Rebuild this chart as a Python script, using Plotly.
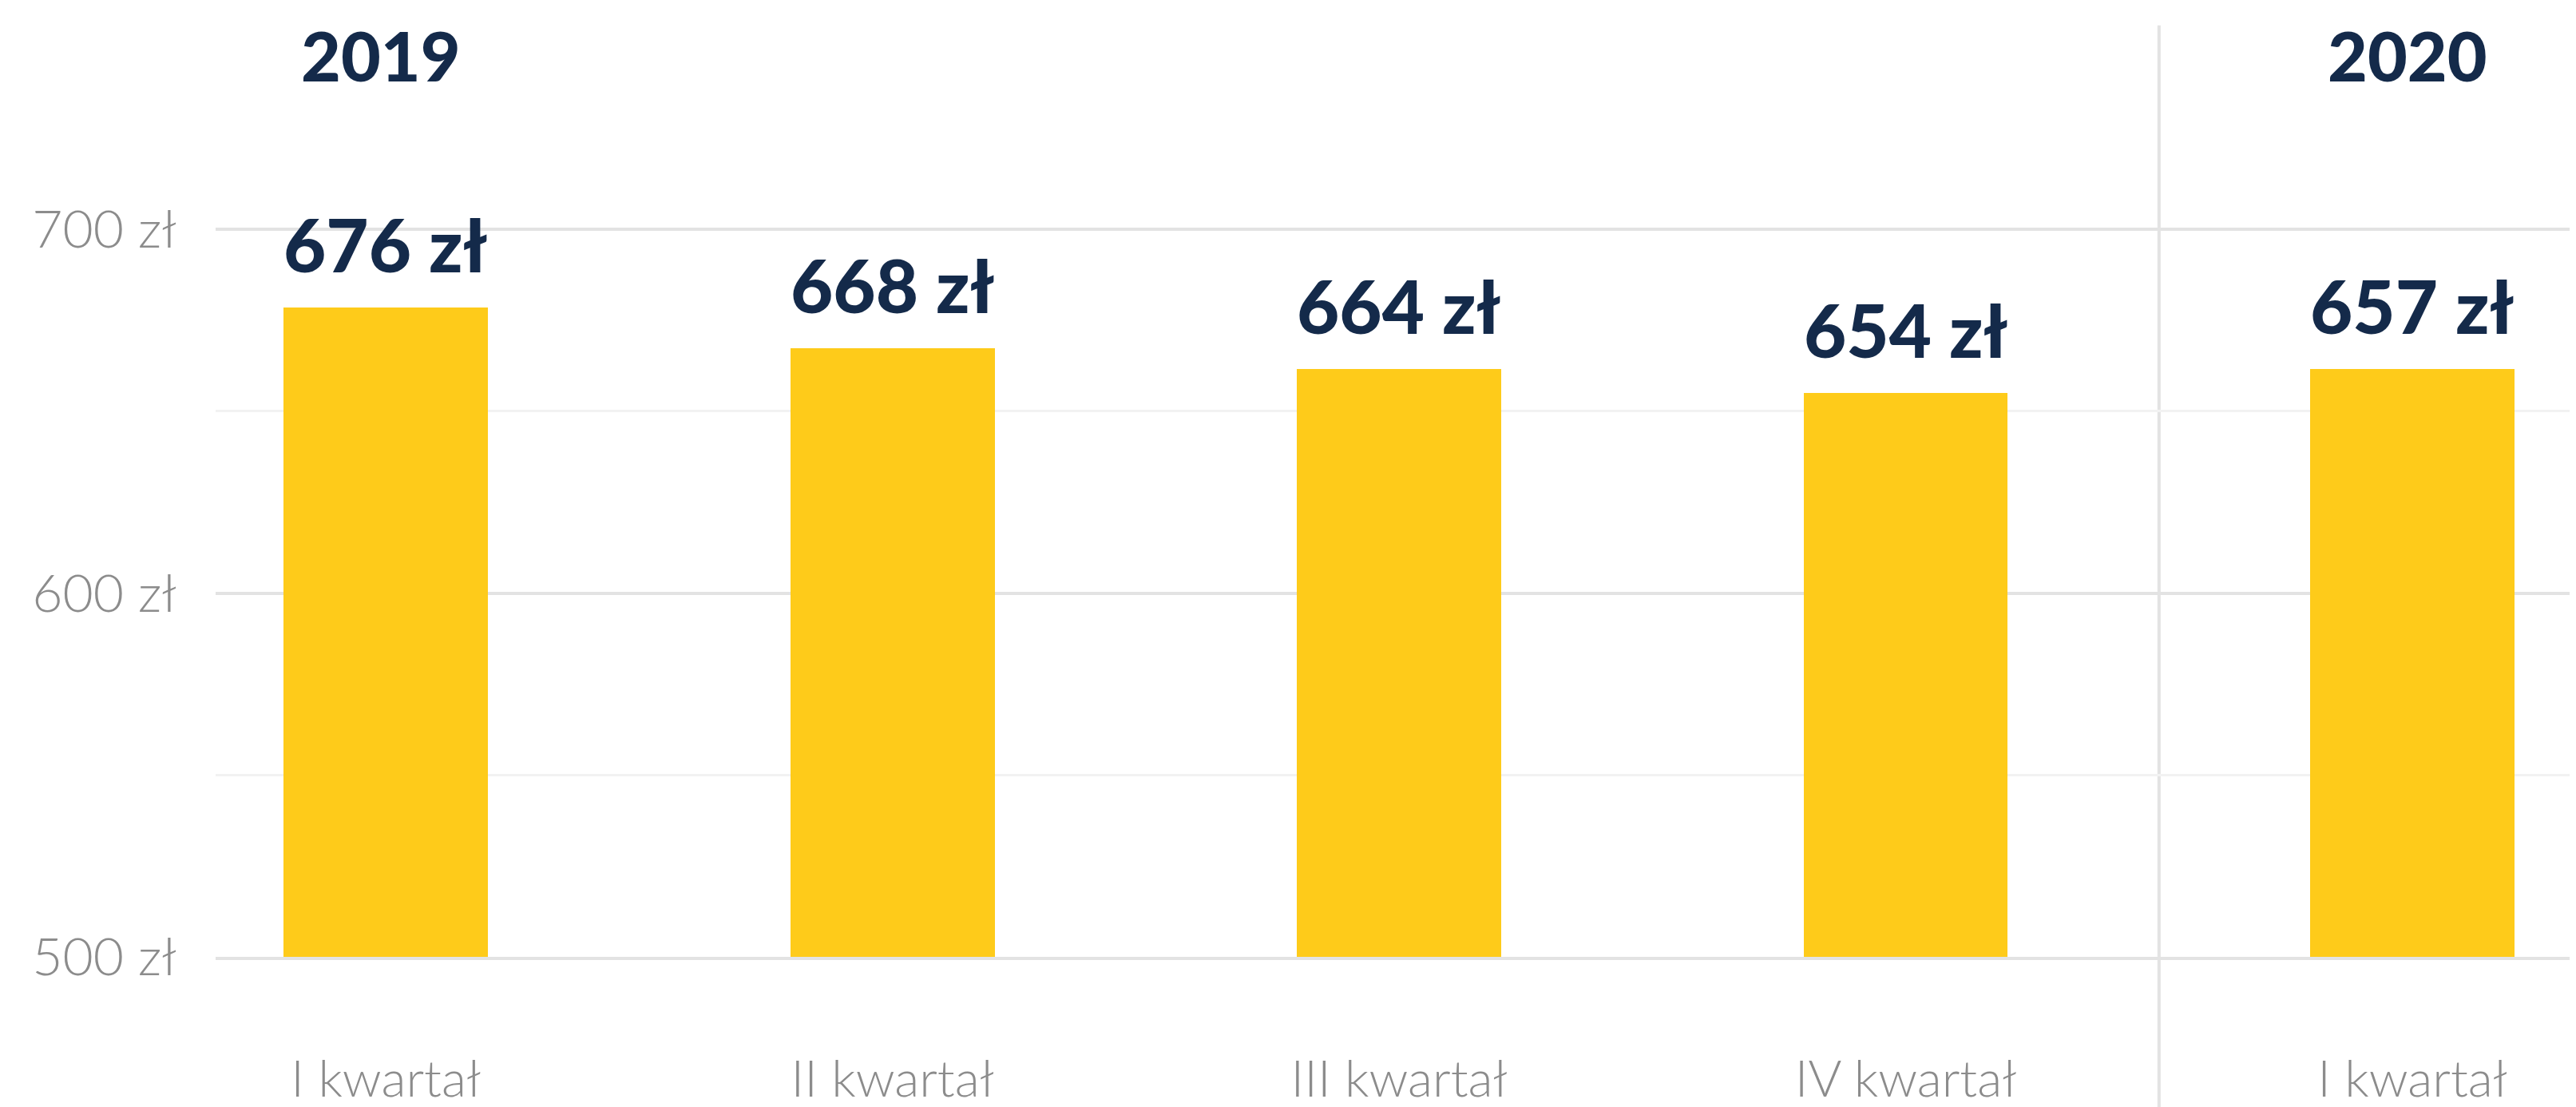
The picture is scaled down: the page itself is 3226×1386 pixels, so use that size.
import plotly.graph_objects as go

# ---- data ----
quarters = ["I kwartał", "II kwartał", "III kwartał", "IV kwartał", "I kwartał"]
years = ["2019", "2019", "2019", "2019", "2020"]
bar_values = [678.5, 667.3, 661.6, 655.0, 661.6]
value_labels = [676, 668, 664, 654, 657]
y_ticks = [500, 600, 700]
y_minor_ticks = [550, 650]

NAVY = "#142a4a"
YELLOW = "#fecb1a"
GRAY = "#8c8c8c"
GRID = "#e3e3e3"
GRID_MINOR = "#f2f2f2"

x = list(range(len(quarters)))

fig = go.Figure(
    go.Bar(
        x=x,
        y=bar_values,
        width=0.403,
        marker=dict(color=YELLOW, line=dict(width=0)),
        hoverinfo="skip",
    )
)

# value labels above bars
for xi, v, lab in zip(x, bar_values, value_labels):
    fig.add_annotation(
        x=xi, y=v, text=f"{lab} zł", showarrow=False,
        yanchor="bottom", yshift=22,
        font=dict(family="Lato", size=92, color=NAVY, weight=900),
    )

# year headers and separators
for i, yr in enumerate(years):
    if i == 0 or years[i - 1] != yr:
        fig.add_annotation(
            x=i, y=0.949, xref="x", yref="paper", text=yr, showarrow=False,
            yanchor="middle", xshift=-6,
            font=dict(family="Lato", size=86, color=NAVY, weight=900),
        )
    if i > 0 and years[i - 1] != yr:
        fig.add_shape(
            type="line", xref="x", yref="paper",
            x0=i - 0.5, x1=i - 0.5, y0=-0.16, y1=0.98,
            line=dict(color=GRID, width=4), layer="below",
        )

fig.update_layout(
    width=3218, height=1378,
    margin=dict(l=262, r=0, t=0, b=188),
    paper_bgcolor="white", plot_bgcolor="white",
    showlegend=False,
    bargap=0,
)
fig.update_xaxes(
    range=[-0.336, 4.323],
    tickmode="array", tickvals=x, ticktext=quarters,
    tickfont=dict(family="Lato", size=64, color=GRAY, weight=300),
    ticklabelstandoff=94,
    showgrid=False, zeroline=False,
    showline=True, linecolor=GRID, linewidth=4, layer="below traces",
    automargin=False, fixedrange=True,
)
fig.update_yaxes(
    range=[500, 761.25],
    tickmode="array", tickvals=y_ticks, ticktext=[f"{t} zł" for t in y_ticks],
    tickfont=dict(family="Lato", size=66, color=GRAY, weight=300),
    ticklabelstandoff=48,
    showgrid=True, gridcolor=GRID, gridwidth=4,
    minor=dict(tickmode="array", tickvals=y_minor_ticks, showgrid=True,
               gridcolor=GRID_MINOR, gridwidth=3, ticks=""),
    zeroline=False, showline=False,
    automargin=False, fixedrange=True, layer="below traces",
)

fig.write_html("out.html", config={"displayModeBar": False})
